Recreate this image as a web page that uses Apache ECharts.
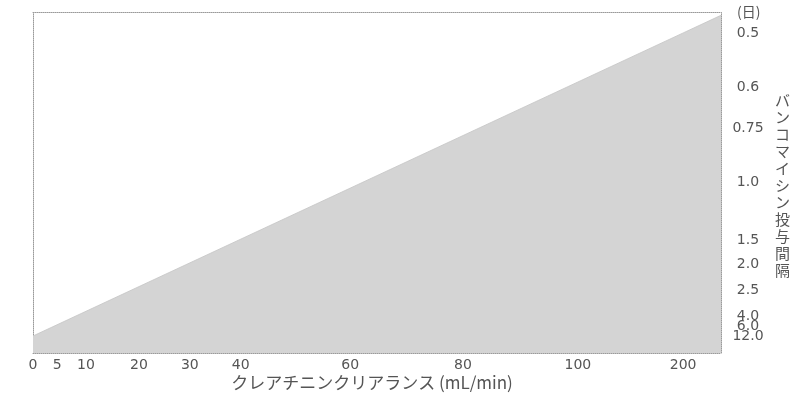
<!DOCTYPE html>
<html>
<head>
<meta charset="utf-8">
<script src="https://cdn.jsdelivr.net/npm/echarts@6/dist/echarts.min.js"></script>
<style>html,body{margin:0;padding:0;background:#fff}#c{width:807px;height:398px}</style>
</head>
<body>
<div id="c"></div>
<script>
// Nomogram scale: tick labels and where each sits along the axis (0-100 of axis length)
const xTickLabels = ['0','5','10','20','30','40','60','80','100','200'];
const xTickValues = [0, 5, 10, 20, 30, 40, 60, 80, 100, 200];
const xScalePos = [0, 3.5, 7.7, 15.4, 22.8, 30.2, 46.1, 62.5, 79.2, 94.5];
const yTickLabels = ['0.5','0.6','0.75','1.0','1.5','2.0','2.5','4.0','6.0','12.0'];
const yTickValues = [0.5, 0.6, 0.75, 1.0, 1.5, 2.0, 2.5, 4.0, 6.0, 12.0];
const yScalePos = [94.0, 78.1, 66.1, 50.2, 33.2, 26.1, 18.5, 10.9, 7.9, 5.0];
// Nomogram boundary line (CrCl mL/min -> dosing interval, days)
const lineCrCl = [0, 200];
const lineInterval = [12.0, 0.5];

function mapScale(v, vals, pos) {
  for (let i = 0; i < vals.length - 1; i++) {
    const a = vals[i], b = vals[i + 1];
    const lo = Math.min(a, b), hi = Math.max(a, b);
    if (v >= lo && v <= hi) return pos[i] + (pos[i + 1] - pos[i]) * (v - a) / (b - a);
  }
  return pos[pos.length - 1];
}
const p0 = [mapScale(lineCrCl[0], xTickValues, xScalePos), mapScale(lineInterval[0], yTickValues, yScalePos)];
const p1 = [mapScale(lineCrCl[1], xTickValues, xScalePos), mapScale(lineInterval[1], yTickValues, yScalePos)];
// line continues to the right edge of the chart
const pEdge = [100, p0[1] + (p1[1] - p0[1]) * (100 - p0[0]) / (p1[0] - p0[0])];
const areaData = [p0, p1, pEdge];

function labelFor(v, pos, labels) {
  let best = 0;
  for (let i = 0; i < pos.length; i++) if (Math.abs(pos[i] - v) < Math.abs(pos[best] - v)) best = i;
  return labels[best];
}

const FONT = '"Noto Sans CJK JP", "Noto Sans", sans-serif';
const NUMFONT = '"DejaVu Sans", sans-serif';
const dotted = { show: true, onZero: false, lineStyle: { color: '#9a9a9a', type: [1, 1], width: 1 } };

// y labels split over two right axes so the tightly stacked ones are all drawn
const yPosA = yScalePos.filter((_, i) => i % 2 === 0);
const yPosB = yScalePos.filter((_, i) => i % 2 === 1);
function rightAxis(custom, showLine) {
  return {
    type: 'value', min: 0, max: 100, position: 'right', offset: 0,
    axisLine: showLine ? dotted : { show: false }, axisTick: { show: false }, splitLine: { show: false },
    axisLabel: {
      customValues: custom, margin: 27, align: 'center', color: '#555', fontSize: 14, fontFamily: NUMFONT,
      hideOverlap: false, showMinLabel: true, showMaxLabel: true,
      formatter: v => labelFor(v, yScalePos, yTickLabels)
    }
  };
}

const chart = echarts.init(document.getElementById('c'), null, { renderer: 'canvas' });
chart.setOption({
  animation: false,
  backgroundColor: '#ffffff',
  grid: { left: 33, right: 86, top: 12.5, bottom: 45 },
  xAxis: [
    {
      type: 'value', min: 0, max: 100, position: 'bottom',
      axisLine: dotted, axisTick: { show: false }, splitLine: { show: false },
      axisLabel: {
        customValues: xScalePos, margin: 5, color: '#555', fontSize: 14, fontFamily: NUMFONT,
        hideOverlap: false, showMinLabel: true, showMaxLabel: true,
        formatter: v => labelFor(v, xScalePos, xTickLabels)
      }
    },
    {
      type: 'value', min: 0, max: 100, position: 'top',
      axisLine: dotted, axisTick: { show: false }, splitLine: { show: false }, axisLabel: { show: false }
    }
  ],
  yAxis: [
    {
      type: 'value', min: 0, max: 100, position: 'left',
      axisLine: dotted, axisTick: { show: false }, splitLine: { show: false }, axisLabel: { show: false }
    },
    rightAxis(yPosA, true),
    rightAxis(yPosB, false)
  ],
  series: [
    {
      type: 'line', xAxisIndex: 0, yAxisIndex: 0, data: areaData,
      symbol: 'none', silent: true,
      lineStyle: { color: '#c4c4c4', width: 0.8 },
      areaStyle: { color: '#d4d4d4', opacity: 1 }
    }
  ],
  graphic: [
    { type: 'text', left: 737, top: 5, style: { text: '(日)', fill: '#555', font: '14px ' + FONT } },
    {
      type: 'text', left: 775, top: 92,
      style: { text: 'バ\nン\nコ\nマ\nイ\nシ\nン\n投\n与\n間\n隔', fill: '#555', font: '15px ' + FONT, lineHeight: 17, align: 'left' }
    },
    {
      type: 'text', x: 372, y: 383,
      style: { text: 'クレアチニンクリアランス (mL/min)', fill: '#555', font: '17px ' + FONT, align: 'center', verticalAlign: 'middle' }
    }
  ]
});
</script>
</body>
</html>
